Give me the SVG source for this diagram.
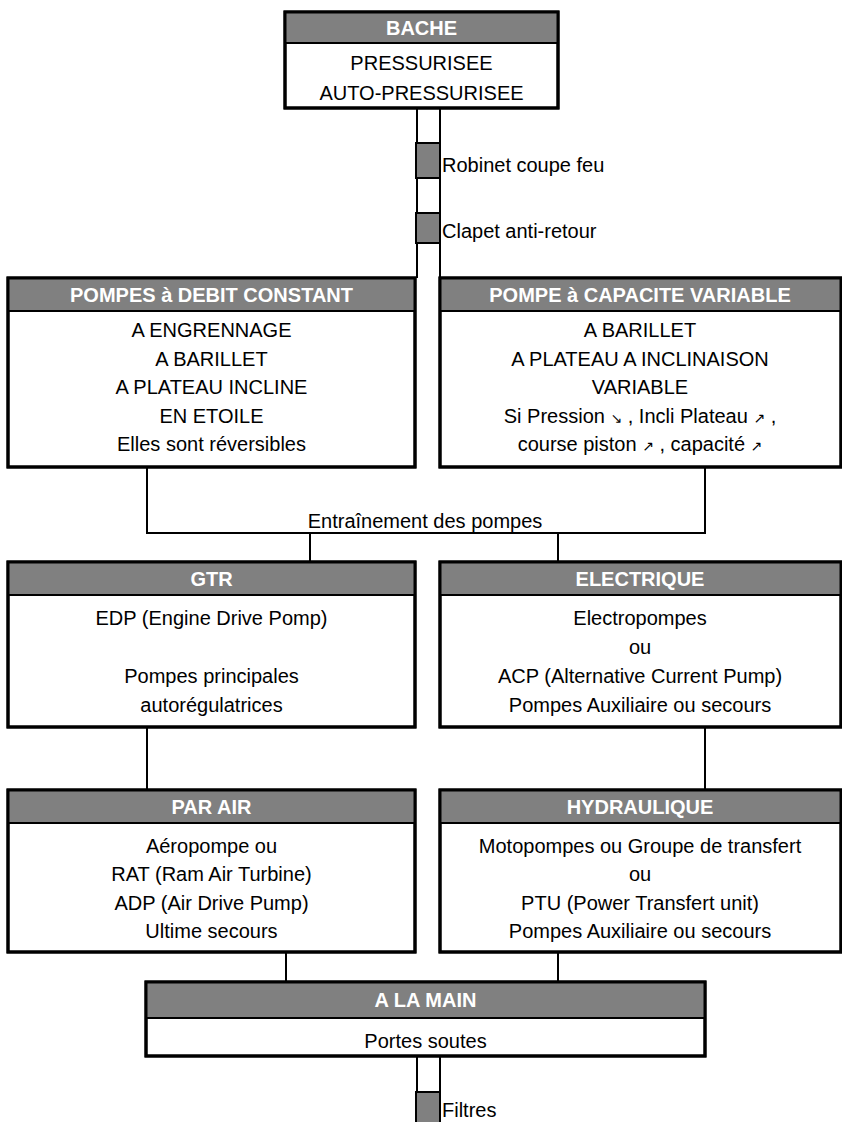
<svg xmlns="http://www.w3.org/2000/svg" width="842" height="1122" viewBox="0 0 842 1122">
<style>
.box{fill:#fff;stroke:#000;stroke-width:3}
.hd{fill:#808080;stroke:#000;stroke-width:2}
.fr{fill:none;stroke:#000;stroke-width:3}
.ht{font-family:"Liberation Sans","DejaVu Sans",Arial,sans-serif;font-size:20px;font-weight:bold;fill:#fff;text-anchor:middle}
.t{font-family:"Liberation Sans","DejaVu Sans",Arial,sans-serif;font-size:20px;fill:#000;text-anchor:middle}
.tl{font-family:"Liberation Sans","DejaVu Sans",Arial,sans-serif;font-size:20px;fill:#000}
.ar{font-family:"DejaVu Sans",sans-serif;font-size:14px}
.c{fill:none;stroke:#000;stroke-width:2}
.v{fill:#808080;stroke:#000;stroke-width:2}
</style>
<rect width="842" height="1122" fill="#fff"/>
<g id="connectors">
<line class="c" x1="417" y1="108" x2="417" y2="278"/>
<line class="c" x1="440" y1="108" x2="440" y2="278"/>
<polyline class="c" points="147,467 147,533 705,533 705,467"/>
<line class="c" x1="310" y1="533" x2="310" y2="562"/>
<line class="c" x1="558" y1="533" x2="558" y2="562"/>
<line class="c" x1="147" y1="727" x2="147" y2="790"/>
<line class="c" x1="705" y1="727" x2="705" y2="790"/>
<line class="c" x1="286" y1="952" x2="286" y2="982"/>
<line class="c" x1="558" y1="952" x2="558" y2="982"/>
<line class="c" x1="417" y1="1056" x2="417" y2="1122"/>
<line class="c" x1="440" y1="1056" x2="440" y2="1122"/>
<text class="t" x="425" y="528">Entraînement des pompes</text>
</g>
<g id="bache">
<rect class="box" x="285" y="12" width="273" height="96"/>
<rect class="hd" x="285" y="12" width="273" height="31"/>
<rect class="fr" x="285" y="12" width="273" height="96"/>
<text class="ht" x="421.5" y="35">BACHE</text>
<text class="t" x="421.5" y="70">PRESSURISEE</text>
<text class="t" x="421.5" y="100">AUTO-PRESSURISEE</text>
</g>
<g id="robinet">
<rect class="v" x="416" y="143" width="24" height="35"/>
<text class="tl" x="442" y="172">Robinet coupe feu</text>
</g>
<g id="clapet">
<rect class="v" x="416" y="213" width="24" height="30"/>
<text class="tl" x="442" y="238">Clapet anti-retour</text>
</g>
<g id="debit-constant">
<rect class="box" x="8" y="278" width="407" height="189"/>
<rect class="hd" x="8" y="278" width="407" height="33"/>
<rect class="fr" x="8" y="278" width="407" height="189"/>
<text class="ht" x="211.5" y="302">POMPES à DEBIT CONSTANT</text>
<text class="t" x="211.5" y="337">A ENGRENNAGE</text>
<text class="t" x="211.5" y="365.5">A BARILLET</text>
<text class="t" x="211.5" y="394">A PLATEAU INCLINE</text>
<text class="t" x="211.5" y="422.5">EN ETOILE</text>
<text class="t" x="211.5" y="451">Elles sont réversibles</text>
</g>
<g id="capacite-variable">
<rect class="box" x="440" y="278" width="401" height="189"/>
<rect class="hd" x="440" y="278" width="401" height="33"/>
<rect class="fr" x="440" y="278" width="401" height="189"/>
<text class="ht" x="640" y="302">POMPE à CAPACITE VARIABLE</text>
<text class="t" x="640" y="337">A BARILLET</text>
<text class="t" x="640" y="365.5">A PLATEAU A INCLINAISON</text>
<text class="t" x="640" y="394">VARIABLE</text>
<text class="t" x="640" y="422.5">Si Pression <tspan class="ar">↘</tspan> , Incli Plateau <tspan class="ar">↗</tspan> ,</text>
<text class="t" x="640" y="451">course piston <tspan class="ar">↗</tspan> , capacité <tspan class="ar">↗</tspan></text>
</g>
<g id="gtr">
<rect class="box" x="8" y="562" width="407" height="165"/>
<rect class="hd" x="8" y="562" width="407" height="33"/>
<rect class="fr" x="8" y="562" width="407" height="165"/>
<text class="ht" x="211.5" y="586">GTR</text>
<text class="t" x="211.5" y="625">EDP (Engine Drive Pomp)</text>
<text class="t" x="211.5" y="683">Pompes principales</text>
<text class="t" x="211.5" y="712">autorégulatrices</text>
</g>
<g id="electrique">
<rect class="box" x="440" y="562" width="401" height="165"/>
<rect class="hd" x="440" y="562" width="401" height="33"/>
<rect class="fr" x="440" y="562" width="401" height="165"/>
<text class="ht" x="640" y="586">ELECTRIQUE</text>
<text class="t" x="640" y="625">Electropompes</text>
<text class="t" x="640" y="654">ou</text>
<text class="t" x="640" y="683">ACP (Alternative Current Pump)</text>
<text class="t" x="640" y="712">Pompes Auxiliaire ou secours</text>
</g>
<g id="par-air">
<rect class="box" x="8" y="790" width="407" height="162"/>
<rect class="hd" x="8" y="790" width="407" height="33"/>
<rect class="fr" x="8" y="790" width="407" height="162"/>
<text class="ht" x="211.5" y="814">PAR AIR</text>
<text class="t" x="211.5" y="853">Aéropompe ou</text>
<text class="t" x="211.5" y="881">RAT (Ram Air Turbine)</text>
<text class="t" x="211.5" y="910">ADP (Air Drive Pump)</text>
<text class="t" x="211.5" y="938">Ultime secours</text>
</g>
<g id="hydraulique">
<rect class="box" x="440" y="790" width="401" height="162"/>
<rect class="hd" x="440" y="790" width="401" height="33"/>
<rect class="fr" x="440" y="790" width="401" height="162"/>
<text class="ht" x="640" y="814">HYDRAULIQUE</text>
<text class="t" x="640" y="853">Motopompes ou Groupe de transfert</text>
<text class="t" x="640" y="881">ou</text>
<text class="t" x="640" y="910">PTU (Power Transfert unit)</text>
<text class="t" x="640" y="938">Pompes Auxiliaire ou secours</text>
</g>
<g id="a-la-main">
<rect class="box" x="146" y="982" width="559" height="74"/>
<rect class="hd" x="146" y="982" width="559" height="36"/>
<rect class="fr" x="146" y="982" width="559" height="74"/>
<text class="ht" x="425.5" y="1007">A LA MAIN</text>
<text class="t" x="425.5" y="1048">Portes soutes</text>
</g>
<g id="filtres">
<rect class="v" x="416" y="1092" width="24" height="40"/>
<text class="tl" x="442" y="1117">Filtres</text>
</g>
</svg>
